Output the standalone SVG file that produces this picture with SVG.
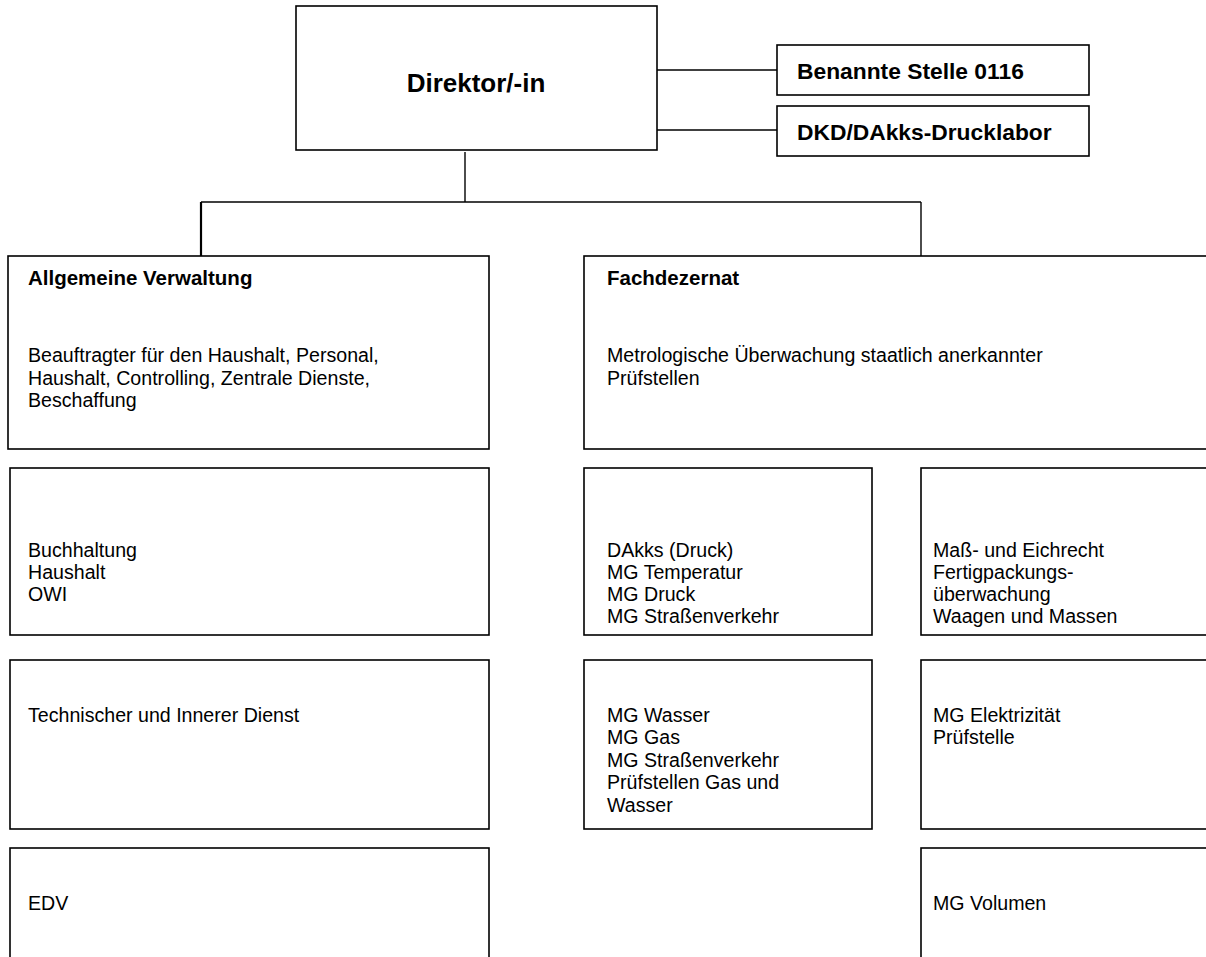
<svg xmlns="http://www.w3.org/2000/svg" width="1206" height="957" viewBox="0 0 1206 957">
<style>
.box{fill:#fff;stroke:#000;stroke-width:1.6}
.ln{stroke:#000;stroke-width:1.4;fill:none}
.t{font-family:"Liberation Sans",Arial,sans-serif;font-size:19.6px;fill:#000}
.b{font-weight:bold;font-size:20.5px}
.s{font-size:22.8px}
</style>
<rect width="1206" height="957" fill="#fff"/>
<g id="connectors">
<line class="ln" x1="657" y1="70" x2="777" y2="70"/>
<line class="ln" x1="657" y1="130" x2="777" y2="130"/>
<line class="ln" x1="465" y1="152" x2="465" y2="202"/>
<line class="ln" x1="201" y1="202" x2="921" y2="202"/>
<line class="ln" x1="201" y1="202" x2="201" y2="256" style="stroke-width:2.2"/>
<line class="ln" x1="921" y1="202" x2="921" y2="256"/>
</g>
<g id="direktor">
<rect class="box" x="296" y="6" width="361" height="144"/>
<text class="t b" x="476" y="92" text-anchor="middle" style="font-size:26px">Direktor/-in</text>
</g>
<g id="benannte">
<rect class="box" x="777" y="45" width="312" height="50"/>
<text class="t b s" x="797" y="79">Benannte Stelle 0116</text>
</g>
<g id="dkd">
<rect class="box" x="777" y="106" width="312" height="50"/>
<text class="t b s" x="797" y="140">DKD/DAkks-Drucklabor</text>
</g>
<g id="allgemeine">
<rect class="box" x="8" y="256" width="481" height="193"/>
<text class="t b" x="28" y="285">Allgemeine Verwaltung</text>
<text class="t" x="28" y="362">Beauftragter für den Haushalt, Personal,</text>
<text class="t" x="28" y="385">Haushalt, Controlling, Zentrale Dienste,</text>
<text class="t" x="28" y="407">Beschaffung</text>
</g>
<g id="fachdezernat">
<rect class="box" x="584" y="256" width="640" height="193"/>
<text class="t b" x="607" y="285">Fachdezernat</text>
<text class="t" x="607" y="362">Metrologische Überwachung staatlich anerkannter</text>
<text class="t" x="607" y="385">Prüfstellen</text>
</g>
<g id="buchhaltung">
<rect class="box" x="10" y="468" width="479" height="167"/>
<text class="t" x="28" y="557">Buchhaltung</text>
<text class="t" x="28" y="579">Haushalt</text>
<text class="t" x="28" y="601">OWI</text>
</g>
<g id="dakks">
<rect class="box" x="584" y="468" width="288" height="167"/>
<text class="t" x="607" y="557">DAkks (Druck)</text>
<text class="t" x="607" y="579">MG Temperatur</text>
<text class="t" x="607" y="601">MG Druck</text>
<text class="t" x="607" y="623">MG Straßenverkehr</text>
</g>
<g id="massrecht">
<rect class="box" x="921" y="468" width="300" height="167"/>
<text class="t" x="933" y="557">Maß- und Eichrecht</text>
<text class="t" x="933" y="579">Fertigpackungs-</text>
<text class="t" x="933" y="601">überwachung</text>
<text class="t" x="933" y="623">Waagen und Massen</text>
</g>
<g id="technischer">
<rect class="box" x="10" y="660" width="479" height="169"/>
<text class="t" x="28" y="722">Technischer und Innerer Dienst</text>
</g>
<g id="wasser">
<rect class="box" x="584" y="660" width="288" height="169"/>
<text class="t" x="607" y="722">MG Wasser</text>
<text class="t" x="607" y="744">MG Gas</text>
<text class="t" x="607" y="767">MG Straßenverkehr</text>
<text class="t" x="607" y="789">Prüfstellen Gas und</text>
<text class="t" x="607" y="812">Wasser</text>
</g>
<g id="elektrizitaet">
<rect class="box" x="921" y="660" width="300" height="169"/>
<text class="t" x="933" y="722">MG Elektrizität</text>
<text class="t" x="933" y="744">Prüfstelle</text>
</g>
<g id="edv">
<rect class="box" x="10" y="848" width="479" height="130"/>
<text class="t" x="28" y="910">EDV</text>
</g>
<g id="volumen">
<rect class="box" x="921" y="848" width="300" height="130"/>
<text class="t" x="933" y="910">MG Volumen</text>
</g>
</svg>
